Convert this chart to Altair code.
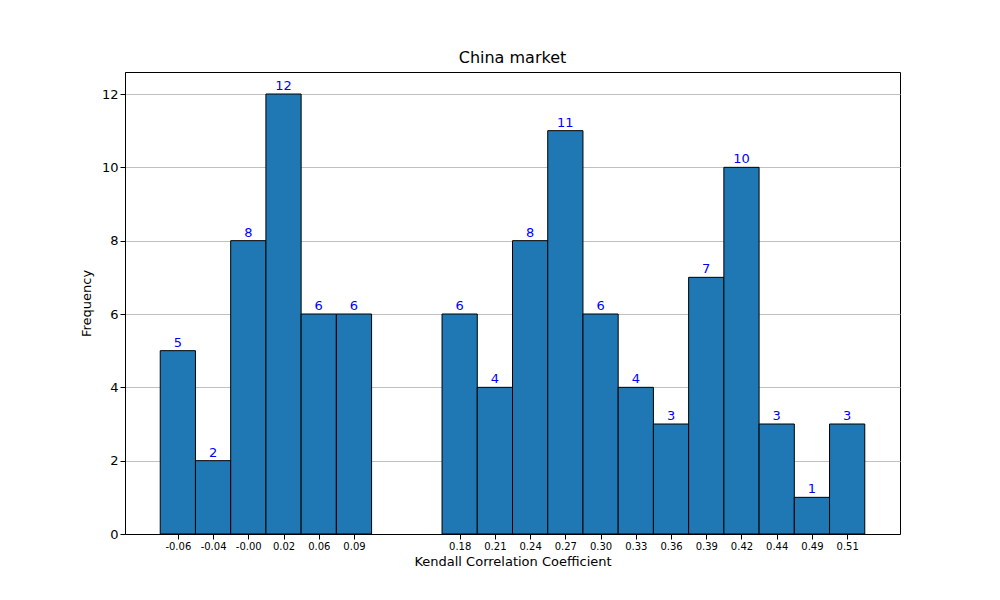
import altair as alt
import pandas as pd

# histogram bins (index 6 and 7 are empty)
bin_index = list(range(20))
counts = [5, 2, 8, 12, 6, 6, 0, 0, 6, 4, 8, 11, 6, 4, 3, 7, 10, 3, 1, 3]
tick_labels = ["-0.06", "-0.04", "-0.00", "0.02", "0.06", "0.09", "", "",
               "0.18", "0.21", "0.24", "0.27", "0.30", "0.33", "0.36", "0.39",
               "0.42", "0.44", "0.49", "0.51"]

df = pd.DataFrame({"start": bin_index, "count": counts, "label": tick_labels})
df["end"] = df["start"] + 1
df["mid"] = df["start"] + 0.5
df = df[df["count"] > 0]

label_array = "[" + ",".join(f"'{t}'" for t in tick_labels) + "]"

x_scale = alt.Scale(domain=[-1, 21], nice=False, zero=False)
y_scale = alt.Scale(domain=[0, 12.6], nice=False)

bars = alt.Chart(df).mark_rect(color="#1f77b4", stroke="black", strokeWidth=1).encode(
    x=alt.X("start:Q", scale=x_scale, title="Kendall Correlation Coefficient",
            axis=alt.Axis(values=list(df["mid"]), grid=False,
                          labelExpr=f"{label_array}[floor(datum.value)]",
                          labelFontSize=10, titleFontSize=13, labelColor="black",
                          domainColor="black", tickColor="black", titleFontWeight="normal",
                          titleColor="black", titlePadding=4)),
    x2="end:Q",
    y=alt.Y("count:Q", scale=y_scale, title="Frequency",
            axis=alt.Axis(values=[0, 2, 4, 6, 8, 10, 12], gridColor="#c0c0c0",
                          labelFontSize=13, titleFontSize=13, labelColor="black",
                          domainColor="black", tickColor="black", titleFontWeight="normal",
                          titleColor="black", titlePadding=8)),
    y2=alt.datum(0),
)

text = alt.Chart(df).mark_text(color="blue", fontSize=13, dy=-8, font="DejaVu Sans").encode(
    x=alt.X("mid:Q", scale=x_scale),
    y=alt.Y("count:Q", scale=y_scale),
    text="count:Q",
)

chart = (
    alt.layer(bars, text)
    .properties(
        width=775, height=462,
        title=alt.TitleParams("China market", fontSize=16, fontWeight="normal", offset=6),
        autosize=alt.AutoSizeParams(type="none"),
        padding={"left": 117, "top": 64, "right": 92, "bottom": 58},
    )
    .configure(font="DejaVu Sans")
    .configure_view(stroke="black")
)

chart.save("out.html", embed_options={"renderer": "svg", "actions": False})
